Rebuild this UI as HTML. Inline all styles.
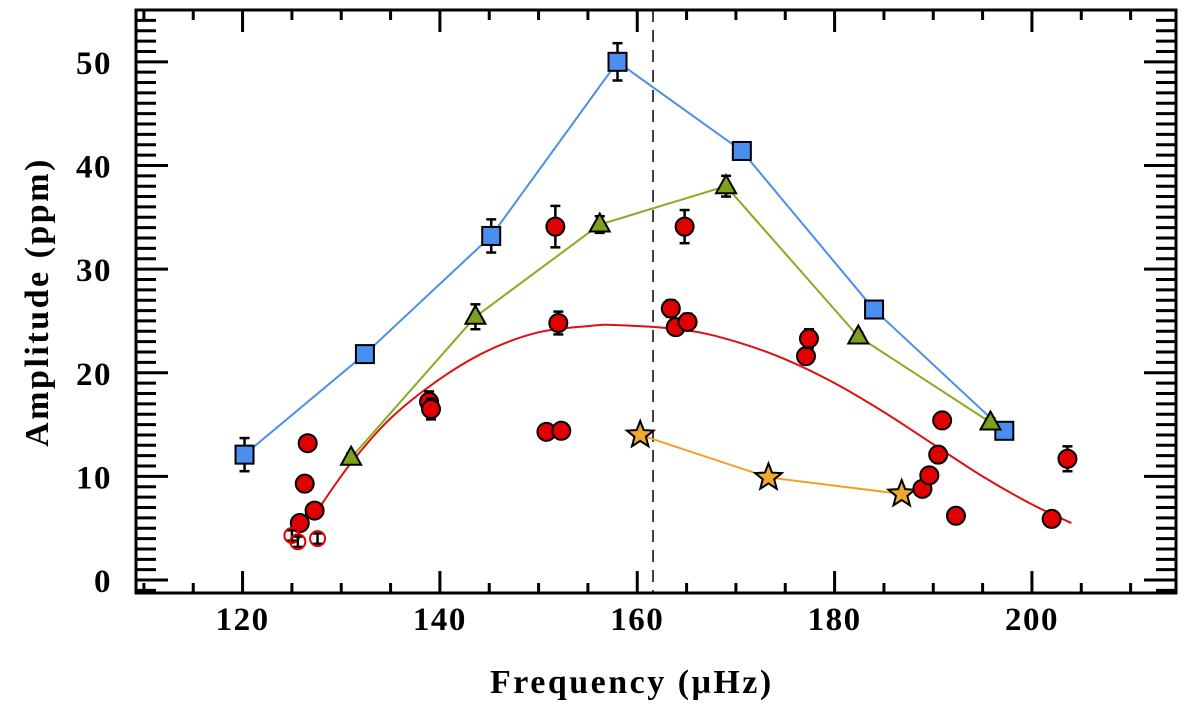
<!DOCTYPE html>
<html><head><meta charset="utf-8"><style>
body{margin:0;background:#fff;}
svg{display:block;font-family:"Liberation Serif",serif;}
</style></head><body>
<svg id="chart" width="1200" height="705" viewBox="0 0 1200 705" xmlns="http://www.w3.org/2000/svg">
<g id="axes"></g><g id="marks"></g>
<text x="490" y="693" font-size="34" font-weight="bold" letter-spacing="2.5">Frequency (μHz)</text>
<text transform="translate(48,302) rotate(-90)" text-anchor="middle" font-size="34" font-weight="bold" letter-spacing="2.5">Amplitude (ppm)</text>
</svg>
<script>
const blueX=[120.2,132.4,145.2,158.0,170.6,184.0,197.2];
const blueY=[12.1,21.8,33.2,50.0,41.4,26.1,14.4];
const blueE=[1.6,0.5,1.6,1.8,0.8,0.4,0.4];
const greenX=[131.0,143.6,156.2,169.0,182.4,195.8];
const greenY=[11.8,25.4,34.3,38.0,23.5,15.2];
const greenE=[0.4,1.2,0.8,1.0,0.4,0.4];
const starX=[160.3,173.3,186.8];
const starY=[14.0,9.9,8.3];
const redX=[126.6,126.3,127.3,125.8,138.9,139.1,150.8,152.3,151.7,152.0,163.4,163.9,164.8,165.1,177.1,177.4,188.9,189.6,190.5,190.9,192.3,202.0,203.6];
const redY=[13.2,9.3,6.7,5.5,17.2,16.5,14.3,14.4,34.1,24.8,26.2,24.4,34.1,24.9,21.6,23.3,8.8,10.1,12.1,15.4,6.2,5.9,11.7];
const redE=[0,0,0,0,1.0,1.0,0.6,0,2.0,1.1,0.8,0.6,1.6,0.8,0.6,0.9,0,0,0,0,0,0.5,1.2];
const openX=[125.0,125.6,127.6];
const openY=[4.3,3.7,4.0];
const curveX=[127.5,131,135,140,145,150,155,158,165,170,175,180,185,190,195,200,204];
const curveY=[6.6,11.3,15.6,19.4,22.2,23.9,24.5,24.6,24.1,23.0,21.3,19.0,16.2,13.1,10.0,7.3,5.5];
const dashX=161.6;
const xTicks=[120,140,160,180,200];
const yTicks=[0,10,20,30,40,50];

const NS="http://www.w3.org/2000/svg";
const L=136,R=1176,T=10,B=593,X0=109.2,X1=214.6,Y0=-1.25,Y1=55.0;
const sx=v=>L+(v-X0)/(X1-X0)*(R-L);
const sy=v=>B-(v-Y0)/(Y1-Y0)*(B-T);
function mk(tag,attrs,parent){const e=document.createElementNS(NS,tag);for(const k in attrs)e.setAttribute(k,attrs[k]);parent.appendChild(e);return e;}
const ax=document.getElementById('axes'),mg=document.getElementById('marks');
const frame=mk('rect',{x:L,y:T,width:R-L,height:B-T,fill:'none',stroke:'#000','stroke-width':3},ax);


for(let v=110;v<=214;v+=5){const maj=v%20===0,len=maj?22:10;const x=sx(v);
 mk('line',{x1:x,y1:B,x2:x,y2:B-len,stroke:'#000','stroke-width':3},ax);
 mk('line',{x1:x,y1:T,x2:x,y2:T+len,stroke:'#000','stroke-width':3},ax);}
xTicks.forEach(v=>{const t=mk('text',{x:sx(v),y:630,'text-anchor':'middle','font-size':33,'font-weight':'bold','letter-spacing':1.5},ax);t.textContent=v;
 
 });
for(let v=-1;v<=55;v++){const maj=v%10===0,len=maj?32:20;const y=sy(v);
 mk('line',{x1:L,y1:y,x2:L+len,y2:y,stroke:'#000','stroke-width':3},ax);
 mk('line',{x1:R,y1:y,x2:R-len,y2:y,stroke:'#000','stroke-width':3},ax);}
yTicks.forEach(v=>{const t=mk('text',{x:112,y:sy(v)+12,'text-anchor':'end','font-size':33,'font-weight':'bold','letter-spacing':1.5},ax);t.textContent=v;
 
 });
const dl=mk('line',{x1:sx(dashX),y1:T,x2:sx(dashX),y2:B,stroke:'#000','stroke-width':1.5,'stroke-dasharray':'12,8'},mg);


function line(xs,ys,col,name){const p=mk('polyline',{points:xs.map((x,i)=>sx(x)+','+sy(ys[i])).join(' '),fill:'none',stroke:col,'stroke-width':2},mg);
 
 }
function smooth(xs,ys,col,name){const P=xs.map((x,i)=>[sx(x),sy(ys[i])]);let d='M'+P[0];
 for(let i=0;i<P.length-1;i++){const p0=P[i-1]||P[i],p1=P[i],p2=P[i+1],p3=P[i+2]||P[i+1];
  const c1=[p1[0]+(p2[0]-p0[0])/6,p1[1]+(p2[1]-p0[1])/6],c2=[p2[0]-(p3[0]-p1[0])/6,p2[1]-(p3[1]-p1[1])/6];
  d+=' C'+c1+' '+c2+' '+p2;}
 const p=mk('path',{d:d,fill:'none',stroke:col,'stroke-width':2},mg);
 
 }
function err(x,y,e){if(!e)return;const X=sx(x),a=sy(y+e),b=sy(y-e);
 mk('line',{x1:X,y1:a,x2:X,y2:b,stroke:'#000','stroke-width':2.5},mg);
 mk('line',{x1:X-5,y1:a,x2:X+5,y2:a,stroke:'#000','stroke-width':2.5},mg);
 mk('line',{x1:X-5,y1:b,x2:X+5,y2:b,stroke:'#000','stroke-width':2.5},mg);}
smooth(curveX,curveY,'#e01010','red-fit-curve');
line(blueX,blueY,'#4a90e8','blue-series-line');
line(greenX,greenY,'#8aab20','green-series-line');
line(starX,starY,'#f0a020','orange-series-line');
blueX.forEach((x,i)=>{err(x,blueY[i],blueE[i]);const r=mk('rect',{x:sx(x)-9,y:sy(blueY[i])-9,width:18,height:18,fill:'#4a8ef0',stroke:'#000','stroke-width':2},mg);
 
 });
greenX.forEach((x,i)=>{err(x,greenY[i],greenE[i]);const X=sx(x),Y=sy(greenY[i]);const p=mk('polygon',{points:`${X},${Y-11} ${X-10},${Y+7} ${X+10},${Y+7}`,fill:'#7ea020',stroke:'#000','stroke-width':2},mg);
 
 });
starX.forEach((x,i)=>{const X=sx(x),Y=sy(starY[i]);let pts=[];for(let k=0;k<10;k++){const r=k%2?6:14,a=-Math.PI/2+k*Math.PI/5;pts.push((X+r*Math.cos(a))+','+(Y+r*Math.sin(a)));}
 const p=mk('polygon',{points:pts.join(' '),fill:'#f0a830',stroke:'#000','stroke-width':2},mg);
 
 });
redX.forEach((x,i)=>{err(x,redY[i],redE[i]);const c=mk('circle',{cx:sx(x),cy:sy(redY[i]),r:9,fill:'#e00000',stroke:'#000','stroke-width':2},mg);
 
 });
openX.forEach((x,i)=>{err(x,openY[i],0.5);const c=mk('circle',{cx:sx(x),cy:sy(openY[i]),r:7.5,fill:'none',stroke:'#e00000','stroke-width':2},mg);
 
 });
</script>
</body></html>
